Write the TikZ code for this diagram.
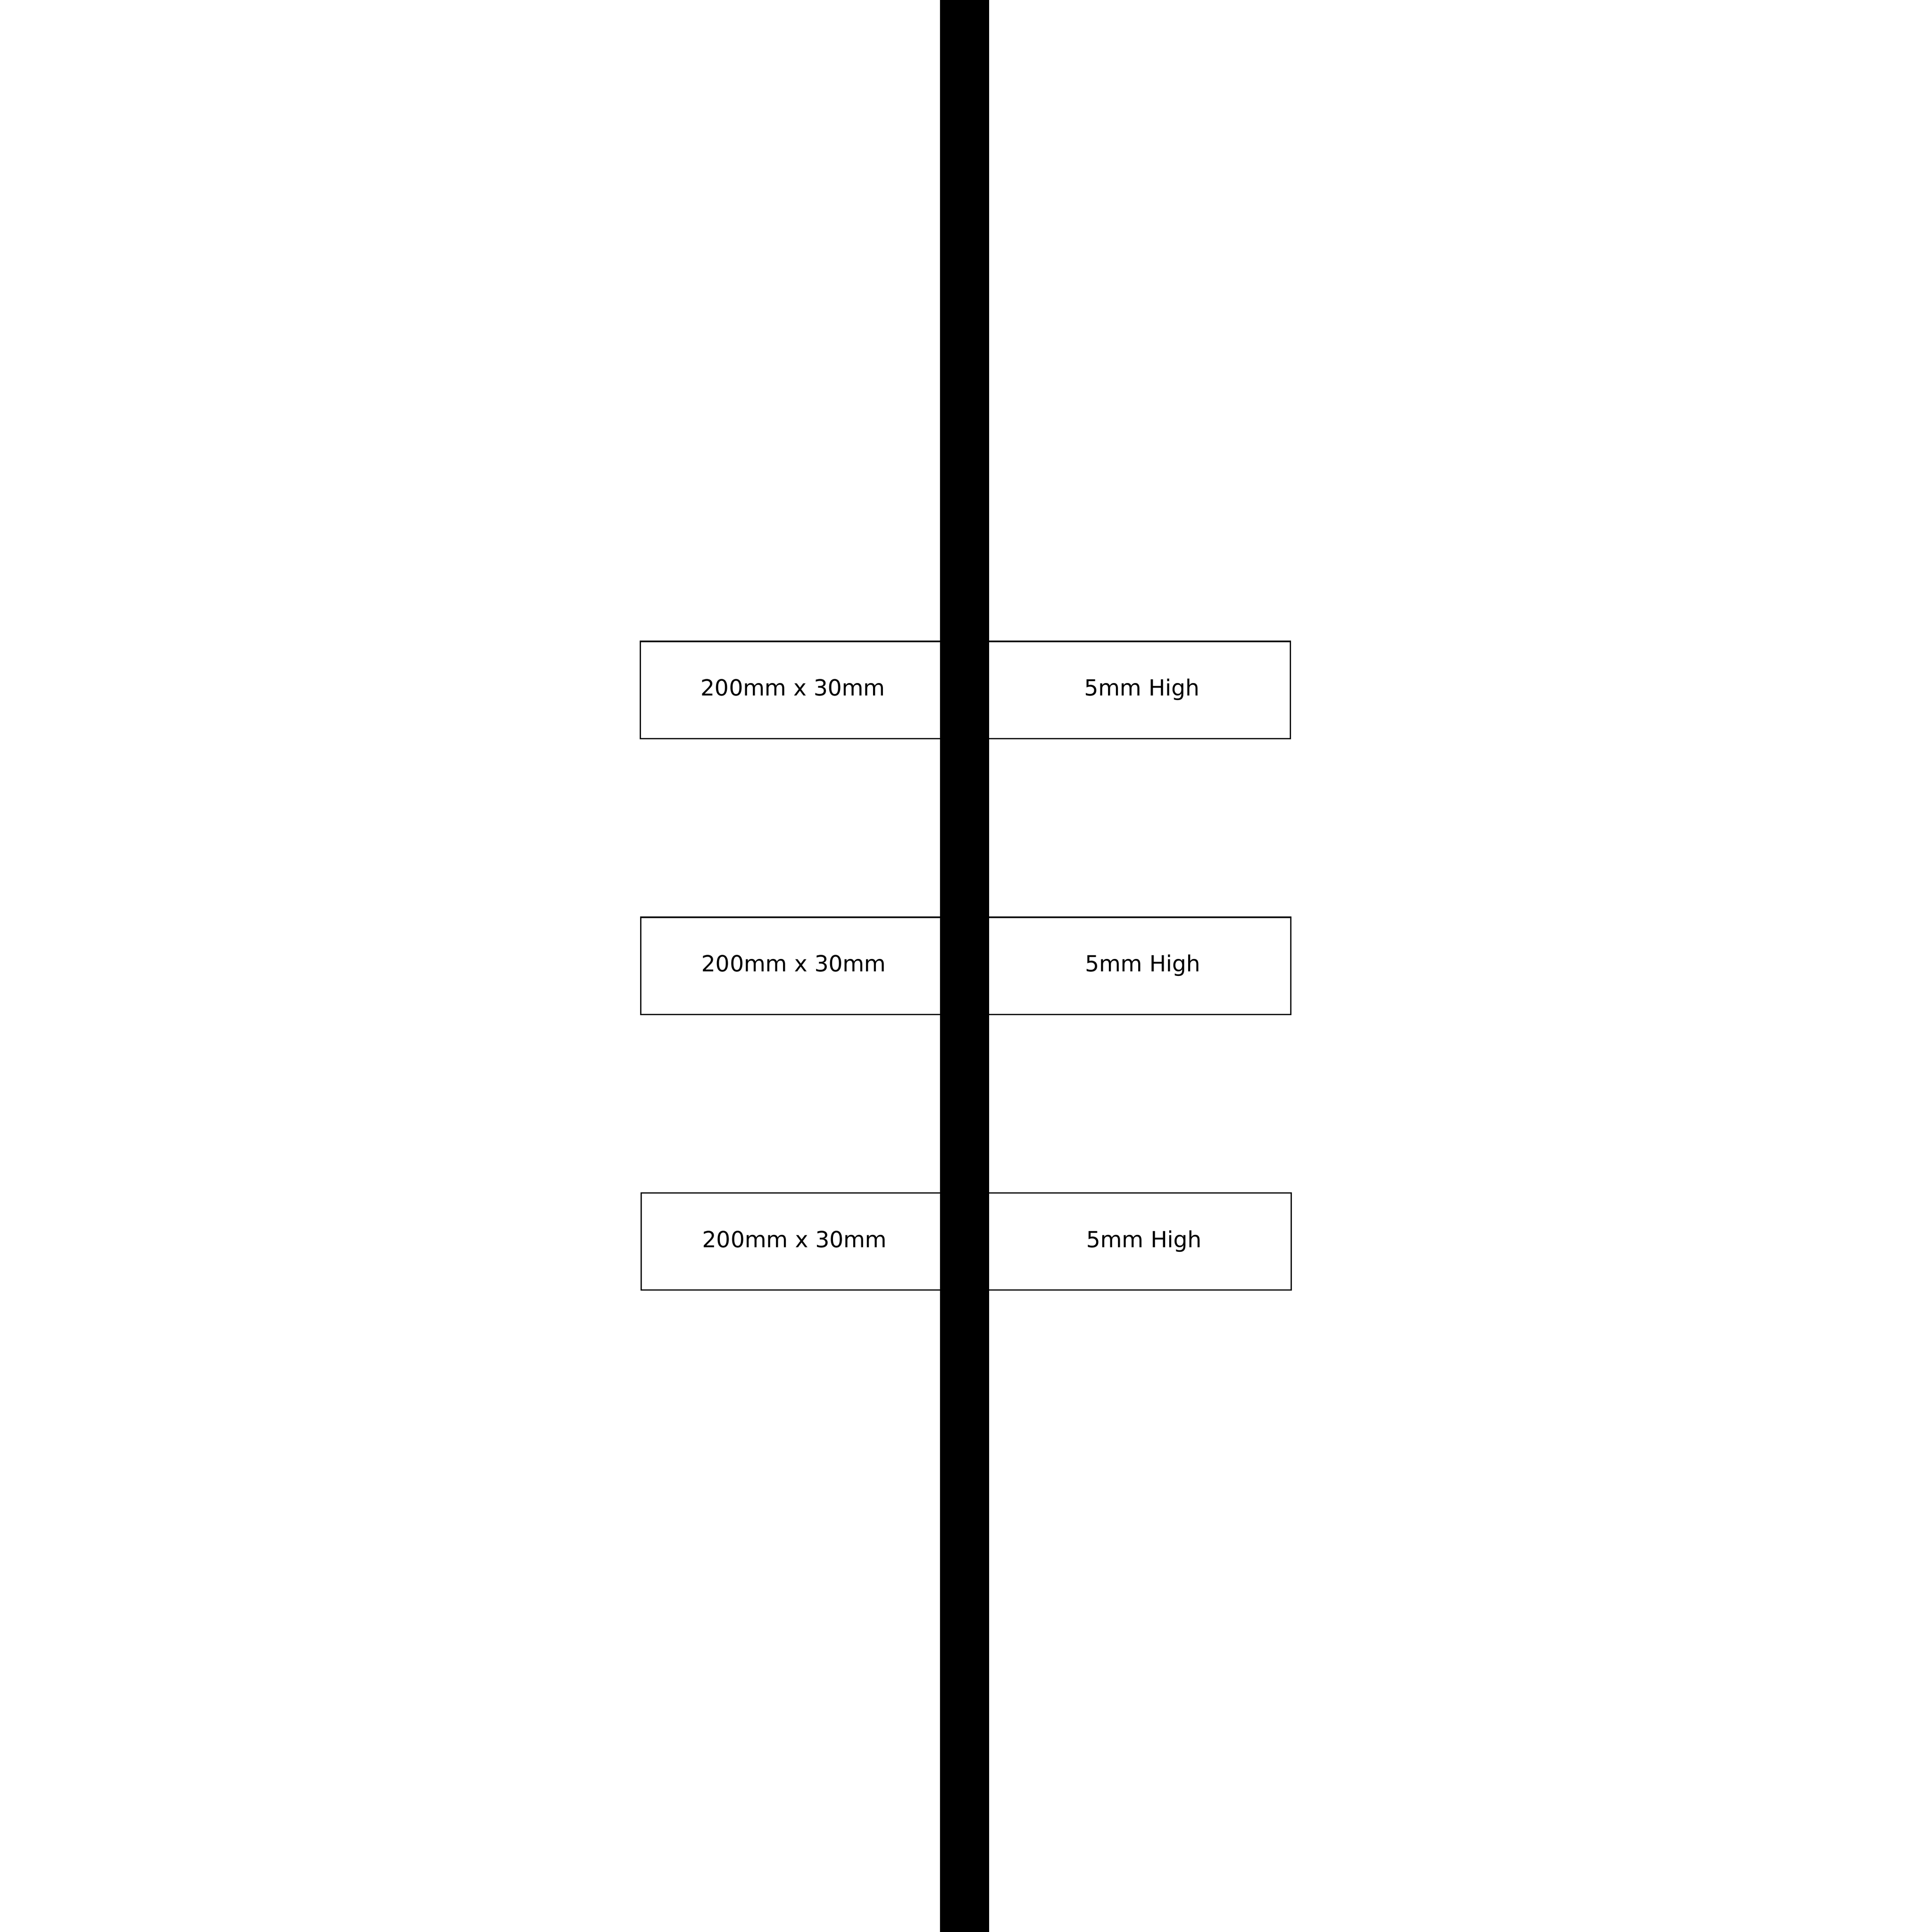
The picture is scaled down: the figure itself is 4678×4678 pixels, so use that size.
\documentclass[tikz,border=0pt]{standalone}
\usepackage{fontspec}
\setmainfont{DejaVu Sans}
\begin{document}
\begin{tikzpicture}[x=0.01cm,y=-0.01cm,
  plate/.style={draw=black,line width=0.94pt,fill=white},
  lbl/.style={inner sep=0pt,anchor=base,font=\fontsize{15.3pt}{18pt}\selectfont},
  rod/.style={fill=black,draw=none}]
\useasboundingbox (0,0) rectangle (4678,4678);
\fill[white] (0,0) rectangle (4678,4678);
% plates
\draw[plate] (1550.5,1553) rectangle (3124.7,1788.3);
\draw[plate] (1551.5,2221) rectangle (3125.5,2456.3);
\draw[plate] (1552.3,2888.5) rectangle (3126.3,3123.8);
% labels
\node[lbl] (l1) at (1920,1684.3) {200mm x 30mm};
\node[lbl] (r1) at (2765,1684.3) {5mm High};
\node[lbl] (l2) at (1922,2352.3) {200mm x 30mm};
\node[lbl] (r2) at (2767,2352.3) {5mm High};
\node[lbl] (l3) at (1924,3020.5) {200mm x 30mm};
\node[lbl] (r3) at (2770,3020.5) {5mm High};
% rod
\fill[rod] (2276,0) rectangle (2395,4678);
\end{tikzpicture}
\end{document}
